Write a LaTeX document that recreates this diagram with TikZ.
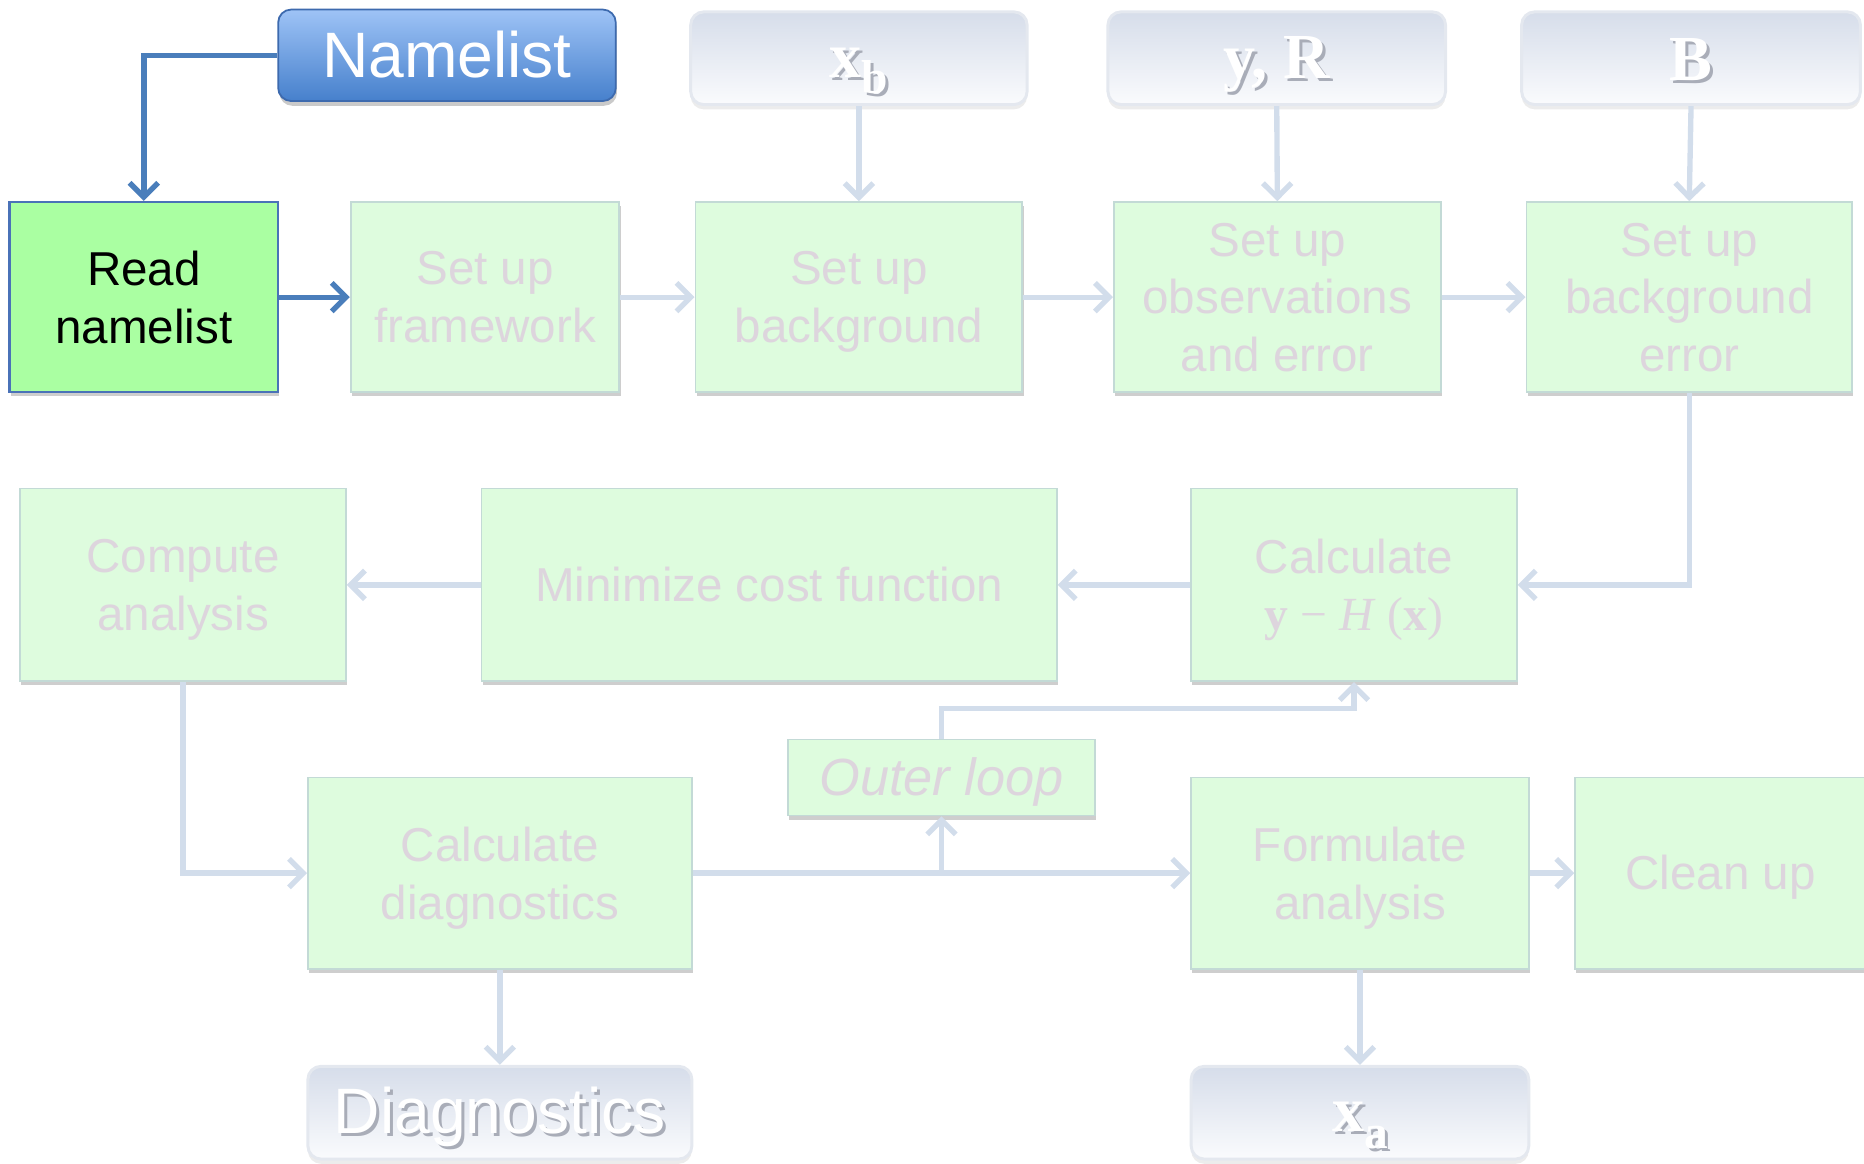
\documentclass[tikz,border=0pt]{standalone}
\usepackage{fontspec}
\setmainfont{Liberation Sans}
\newfontfamily\tnr{Liberation Serif}
\usetikzlibrary{arrows.meta,shadows}

\definecolor{boxfill}{HTML}{DEFCDE}
\definecolor{boxline}{HTML}{C3DAD6}
\definecolor{fadetext}{HTML}{DDD5DD}
\definecolor{wire}{HTML}{D2DDEB}
\definecolor{nlblue}{HTML}{4A7EBB}
\definecolor{nltop}{HTML}{9EC3F6}
\definecolor{nlbot}{HTML}{4680CC}
\definecolor{nlline}{HTML}{3D6AAE}
\definecolor{readfill}{HTML}{AAFFA2}
\definecolor{readline}{HTML}{4A72B8}
\definecolor{iotop}{HTML}{D6DDEA}
\definecolor{iobot}{HTML}{FAFBFD}
\definecolor{ioline}{HTML}{E4E8EF}
\definecolor{ioshade}{HTML}{A9ADB8}

% white lettering with a soft grey offset copy behind it
\newcommand\embossed[1]{\leavevmode\rlap{\kern2.5pt\raisebox{-2.5pt}{\textcolor{ioshade}{#1}}}\textcolor{white}{#1}}
% line strut with the ascent and descent of the font in use
\newcommand\fontstrut{\rule[-0.212em]{0pt}{1.117em}}

\tikzset{
  sz/.style 2 args={minimum width=#1pt, minimum height=#2pt},
  struts/.style={execute at begin node=\fontstrut, execute at end node=\fontstrut},
  % stacked lines sit a little lower in their box
  multiline/.style={text depth=-3.5pt},
  stage/.style={struts, draw=boxline, line width=1.5pt, fill=boxfill, text=fadetext,
    font=\fontsize{40}{48.5}\selectfont, align=center, inner sep=0pt,
    drop shadow={shadow xshift=1pt, shadow yshift=-3.5pt, opacity=0.35, fill=black!55}},
  stagem/.style={stage, multiline},
  readstage/.style={stagem, draw=readline, line width=2pt, fill=readfill, text=black},
  ioport/.style={struts, rounded corners=11pt, draw=ioline, line width=2.5pt,
    top color=iotop, bottom color=iobot, align=center, inner sep=0pt,
    font=\tnr\bfseries\fontsize{54}{60}\selectfont,
    drop shadow={shadow xshift=0pt, shadow yshift=-4pt, opacity=0.12, fill=black!60}},
  nlport/.style={struts, rounded corners=11pt, draw=nlline, line width=1.5pt,
    top color=nltop, bottom color=nlbot, text=white, inner sep=0pt,
    font=\fontsize{54}{60}\selectfont,
    drop shadow={shadow xshift=1pt, shadow yshift=-4pt, opacity=0.35, fill=black!60}},
  wire/.style={draw=wire, line width=4.5pt, -{Straight Barb[length=12pt, width=24pt]}},
  bluewire/.style={draw=nlblue, line width=4.5pt, -{Straight Barb[length=12pt, width=24pt]}},
}

\begin{document}
\begin{tikzpicture}[x=1pt, y=-1pt]
\useasboundingbox (0,0) rectangle (1568,979);

% inputs
\node[nlport, sz={284}{77}] (nl) at (376,46.5) {Namelist};
\node[ioport, sz={283}{78}] (xb) at (722.5,49)
  {\embossed{x\raisebox{-14pt}{\fontsize{40}{40}\selectfont b}}};
\node[ioport, sz={284}{78}] (yr) at (1074,49) {\embossed{y, R}};
\node[ioport, sz={285}{78}] (bm) at (1422.5,49) {\embossed{B}};

% first row of stages
\node[readstage, sz={226}{160}] (rn) at (121,250) {Read\\namelist};
\node[stagem, sz={226}{160}] (fw) at (408,250) {Set up\\framework};
\node[stagem, sz={275}{160}] (bg) at (722.5,250) {Set up\\background};
\node[stagem, sz={275}{160}] (ob) at (1074.5,250) {Set up\\observations\\and error};
\node[stagem, sz={274}{160}] (be) at (1421,250) {Set up\\background\\error};

% second row
\node[stagem, sz={274}{162}] (ca) at (154,492) {Compute\\analysis};
\node[stage, sz={484}{162}] (mc) at (647,492) {Minimize cost function};
\node[stagem, sz={274}{162}] (hx) at (1139,492)
  {Calculate\\{\tnr\textbf{y} − \textit{H} (\textbf{x})}};

% outer loop
\node[stage, sz={258}{64}, font=\itshape\fontsize{44}{50}\selectfont] (ol) at (792,654) {Outer loop};

% third row
\node[stagem, sz={323}{161}] (cd) at (420.5,734.5) {Calculate\\diagnostics};
\node[stagem, sz={284}{161}] (fa) at (1144,734.5) {Formulate\\analysis};
\node[stage, sz={245}{161}] (cu) at (1447.5,734.5) {Clean up};

% outputs
\node[ioport, sz={323}{78}, font=\fontsize{54}{60}\selectfont] (dg) at (420.5,936) {\embossed{Diagnostics}};
\node[ioport, sz={284}{78}] (xa) at (1144,936)
  {\embossed{x\raisebox{-14pt}{\fontsize{40}{40}\selectfont a}}};

% connectors
\draw[bluewire] (nl.west) -| (rn.north);
\draw[bluewire] (rn.east) -- (fw.west);
\draw[wire] (fw.east) -- (bg.west);
\draw[wire] (bg.east) -- (ob.west);
\draw[wire] (ob.east) -- (be.west);
\draw[wire] (xb.south) -- (bg.north);
\draw[wire] (yr.south) -- (ob.north);
\draw[wire] (bm.south) -- (be.north);
\draw[wire] (be.south) |- (hx.east);
\draw[wire] (hx.west) -- (mc.east);
\draw[wire] (mc.west) -- (ca.east);
\draw[wire] (ca.south) |- (cd.west);
\draw[wire] (cd.east) -- (fa.west);
\draw[wire] (ol.south |- cd.east) -- (ol.south);
\draw[wire] (ol.north) -- ++(0,-25) -| (hx.south);
\draw[wire] (fa.east) -- (cu.west);
\draw[wire] (cd.south) -- (dg.north);
\draw[wire] (fa.south) -- (xa.north);
\end{tikzpicture}
\end{document}
